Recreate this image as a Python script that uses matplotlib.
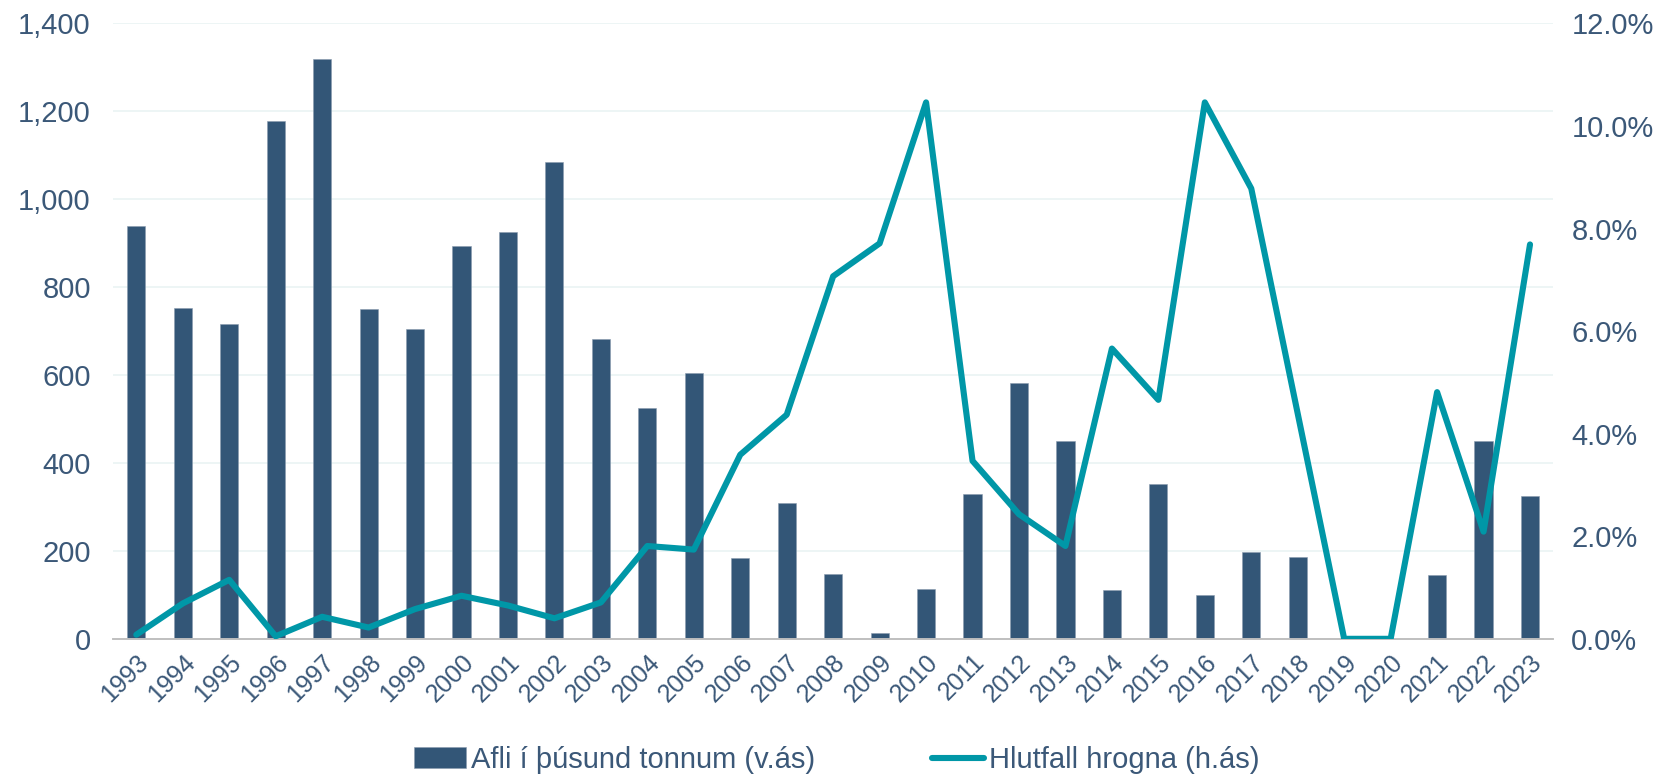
"""Afli og hlutfall hrogna, 1993-2023."""

import matplotlib

matplotlib.use("Agg")
import matplotlib.pyplot as plt
from matplotlib.ticker import FuncFormatter, MultipleLocator

years = [str(y) for y in range(1993, 2024)]

# Afli í þúsund tonnum (vinstri ás)
catch_kt = [
    940, 753, 716, 1177, 1318, 750, 705, 893, 925, 1084,
    681, 524, 605, 184, 308, 148, 13, 113, 329, 583,
    451, 111, 353, 100, 197, 186, 0, 0, 146, 449,
    326,
]

# Hlutfall hrogna í % (hægri ás)
roe_pct = [
    0.08, 0.69, 1.15, 0.05, 0.43, 0.22, 0.58, 0.84, 0.65, 0.40,
    0.71, 1.81, 1.74, 3.59, 4.37, 7.07, 7.71, 10.46, 3.47, 2.43,
    1.81, 5.66, 4.66, 10.46, 8.78, 4.39, 0.0, 0.0, 4.81, 2.09,
    7.69,
]

BAR_COLOR = "#335677"
LINE_COLOR = "#0097A7"
TEXT_COLOR = "#3B5878"
GRID_COLOR = "#EAF3F3"

plt.rcParams["font.family"] = ["Liberation Sans", "DejaVu Sans"]

fig = plt.figure(figsize=(16.63, 7.8), dpi=100)
ax = fig.add_axes([0.068, 0.181, 0.866, 0.789])
ax2 = ax.twinx()

x = list(range(len(years)))
ax.bar(x, catch_kt, width=0.39, color=BAR_COLOR, edgecolor="#8A9BAE",
       linewidth=0.4, label="Afli í þúsund tonnum (v.ás)", zorder=2)
ax2.plot(x, roe_pct, color=LINE_COLOR, linewidth=4.4,
         solid_joinstyle="round", solid_capstyle="round",
         label="Hlutfall hrogna (h.ás)", zorder=3)

ax.set_xlim(-0.5, len(years) - 0.5)
ax.set_ylim(0, 1400)
ax.yaxis.set_major_locator(MultipleLocator(200))
ax.yaxis.set_major_formatter(FuncFormatter(lambda v, _: f"{v:,.0f}"))
ax2.set_ylim(0, 12)
ax2.yaxis.set_major_locator(MultipleLocator(2))
ax2.yaxis.set_major_formatter(FuncFormatter(lambda v, _: f"{v:.1f}%"))

ax.grid(axis="y", color=GRID_COLOR, linewidth=1.2, zorder=0)
ax.set_axisbelow(True)

for axis in (ax, ax2):
    for side in ("top", "left", "right"):
        axis.spines[side].set_visible(False)
    axis.spines["bottom"].set_color("#BFBFBF")
    axis.spines["bottom"].set_linewidth(1.2)
    axis.tick_params(length=0, labelsize=21, colors=TEXT_COLOR)

ax.tick_params(axis="y", pad=16)
ax2.tick_params(axis="y", pad=13)
ax.set_xticks(x)
ax.set_xticklabels(years, rotation=45, ha="right", rotation_mode="anchor",
                   fontsize=18)
ax.tick_params(axis="x", pad=8)

handles = ax.get_legend_handles_labels()[0] + ax2.get_legend_handles_labels()[0]
labels = ax.get_legend_handles_labels()[1] + ax2.get_legend_handles_labels()[1]
fig.legend(handles, labels, loc="center", bbox_to_anchor=(0.503, 0.026),
           ncol=2, frameon=False, fontsize=21, labelcolor=TEXT_COLOR,
           handlelength=1.8, handletextpad=0.15, columnspacing=4.0)

fig.savefig("out.png", dpi=100)
